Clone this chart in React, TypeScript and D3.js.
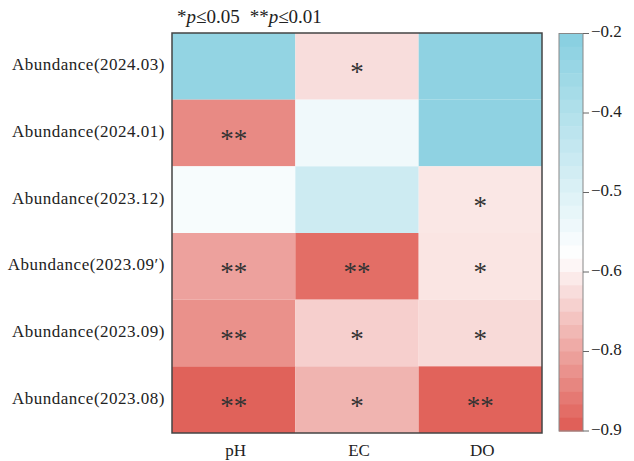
import * as d3 from "d3";

const rows = [
  "Abundance(2024.03)",
  "Abundance(2024.01)",
  "Abundance(2023.12)",
  "Abundance(2023.09\u2032)",
  "Abundance(2023.09)",
  "Abundance(2023.08)",
];
const cols = ["pH", "EC", "DO"];

// correlation values, one array per column, top row first
const pHValues = [-0.258, -0.836, -0.5625, -0.805, -0.827, -0.89];
const ecValues = [-0.65, -0.545, -0.465, -0.874, -0.687, -0.76];
const doValues = [-0.24, -0.24, -0.625, -0.63, -0.66, -0.888];

const pHSig = ["", "**", "", "**", "**", "**"];
const ecSig = ["*", "", "", "**", "*", "*"];
const doSig = ["", "", "*", "*", "*", "**"];

const legendTicks = [-0.2, -0.4, -0.5, -0.6, -0.8, -0.9];

const font = "'Liberation Serif', 'Times New Roman', serif";

export default function App() {
  const width = 634;
  const height = 461;

  const x = d3.scaleBand().domain(cols).range([172, 542]);
  const y = d3.scaleBand().domain(rows).range([33, 433]);

  // value -> position along the legend (0 top, 1 bottom); ticks are evenly spaced
  const pos = d3
    .scaleLinear()
    .domain(legendTicks)
    .range(legendTicks.map((_, i) => i / (legendTicks.length - 1)));
  const color = d3
    .scaleLinear<string>()
    .domain([0, 0.56, 1])
    .range(["#86cfe0", "#ffffff", "#df5a52"])
    .interpolate(d3.interpolateRgb);
  const legendY = d3.scaleLinear().domain([0, 1]).range([33.5, 431]);

  const columns = [
    { name: "pH", values: pHValues, sig: pHSig },
    { name: "EC", values: ecValues, sig: ecSig },
    { name: "DO", values: doValues, sig: doSig },
  ];

  const cells = columns.flatMap((c) =>
    c.values.map((v, i) => ({ col: c.name, row: rows[i], v, s: c.sig[i] }))
  );

  const nBands = 30;
  const bands = d3.range(nBands).map((i) => i / nBands);

  return (
    <svg width={width} height={height} style={{ position: "absolute", left: 0, top: 0 }} fontFamily={font}>
      <rect width={width} height={height} fill="#fff" />

      <text x={177} y={23} fontSize={19} fill="#222">
        *<tspan fontStyle="italic">p</tspan>≤0.05
        <tspan dx={10}>**</tspan>
        <tspan fontStyle="italic">p</tspan>≤0.01
      </text>

      {cells.map((d) => (
        <g key={d.col + d.row}>
          <rect
            x={x(d.col)}
            y={y(d.row)}
            width={x.bandwidth()}
            height={y.bandwidth()}
            fill={color(pos(d.v))}
          />
          {d.s && (
            <text
              x={x(d.col)! + x.bandwidth() / 2}
              y={y(d.row)! + y.bandwidth() / 2 + 15}
              textAnchor="middle"
              fontSize={27}
              fill="#333"
            >
              {d.s}
            </text>
          )}
        </g>
      ))}
      <rect x={172} y={33} width={370} height={400} fill="none" stroke="#444" strokeWidth={1.5} />

      {rows.map((r) => (
        <text
          key={r}
          x={165}
          y={y(r)! + y.bandwidth() / 2}
          textAnchor="end"
          dominantBaseline="middle"
          fontSize={17}
          letterSpacing={0.5}
          fill="#222"
        >
          {r}
        </text>
      ))}

      {cols.map((c) => (
        <text key={c} x={x(c)! + x.bandwidth() / 2 + 2} y={456} textAnchor="middle" fontSize={17} fill="#222">
          {c}
        </text>
      ))}

      {bands.map((b) => (
        <rect
          key={b}
          x={559}
          y={legendY(b)}
          width={24}
          height={legendY(1 / nBands) - legendY(0) + 0.5}
          fill={color(b + 0.5 / nBands)}
        />
      ))}
      <rect x={559} y={legendY(0)} width={24} height={legendY(1) - legendY(0)} fill="none" stroke="#888" strokeWidth={1} />

      {legendTicks.map((t) => (
        <g key={t} transform={`translate(583, ${legendY(pos(t))})`}>
          <line x1={0} x2={6} stroke="#666" />
          <text x={8} dominantBaseline="middle" fontSize={17} fill="#222">
            {"\u2212" + Math.abs(t).toFixed(1)}
          </text>
        </g>
      ))}
    </svg>
  );
}
